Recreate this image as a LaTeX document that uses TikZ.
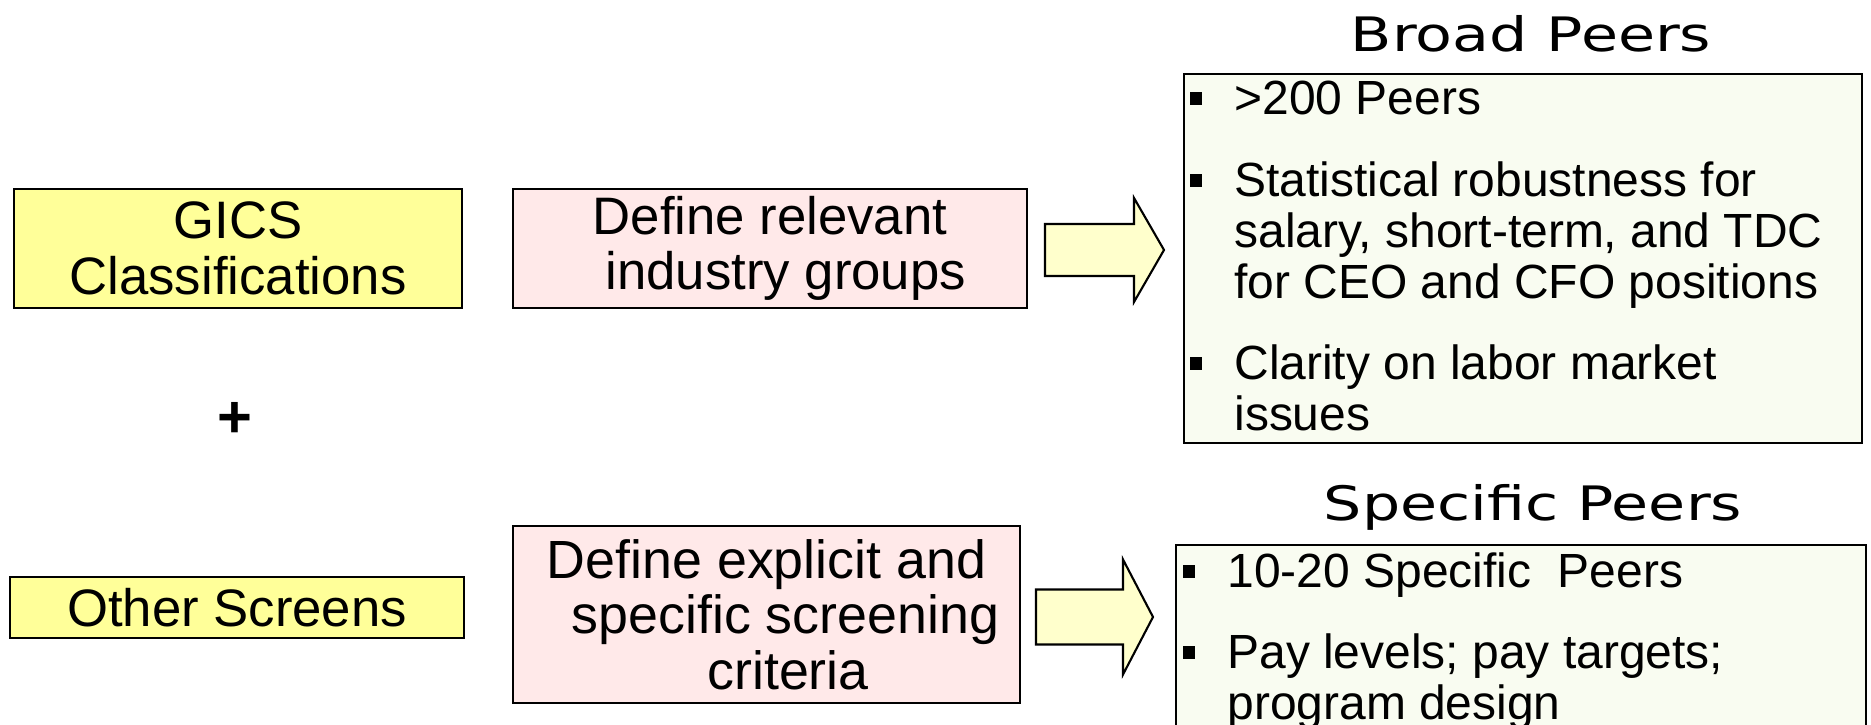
\documentclass[tikz,border=0pt]{standalone}
\usepackage{graphicx}
\usepackage{fontspec}
\setmainfont{Liberation Sans}
\newfontfamily\titlefont{DejaVu Sans}
\definecolor{gicsCol}{HTML}{FFFF99}
\definecolor{defineCol}{HTML}{FFE9E9}
\definecolor{arrowCol}{HTML}{FFFFCC}
\definecolor{peerCol}{HTML}{F9FCF1}
\newcommand{\sqbul}{\llap{\rule[5.4pt]{7pt}{7.4pt}\hspace{18.2pt}}}

\begin{document}
\begin{tikzpicture}[
    leftbox/.style={draw=black, line width=1.3pt, inner sep=0pt, align=center, font=\fontsize{30pt}{31.7pt}\selectfont},
    sourcebox/.style={leftbox, fill=gicsCol},
    definebox/.style={leftbox, fill=defineCol},
    peerbox/.style={draw=black, line width=1pt, fill=peerCol, inner sep=0pt},
    peerlist/.style={anchor=north west, align=left, inner sep=0pt, font=\fontsize{27.3pt}{28.9pt}\selectfont},
    titlenode/.style={anchor=base, font=\titlefont\fontsize{27pt}{30pt}\selectfont},
    blockarrow/.style={draw=black, line width=1.2pt, fill=arrowCol, line join=miter}
]
\useasboundingbox (0,0) rectangle (37.42,14.5);

% --- 1. SOURCES ---
\node[sourcebox, minimum width=8.96cm, minimum height=2.38cm] (gics) at (4.76, 9.53) {GICS\\Classifications};
\node[font=\bfseries\fontsize{34pt}{36pt}\selectfont] (plus) at (4.70, 6.1) {+};
\node[sourcebox, minimum width=9.08cm, minimum height=1.22cm] (other) at (4.74, 2.35) {Other Screens};

% --- 2. DEFINITION STEPS ---
\node[definebox, minimum width=10.28cm, minimum height=2.38cm] (defrel) at (15.40, 9.53) {Define relevant\\\hspace{0.6em}industry groups};
\node[definebox, minimum width=10.14cm, minimum height=3.54cm, font=\fontsize{30.6pt}{31.7pt}\selectfont] (defexp) at (15.33, 2.21) {Define explicit and\\\hspace{0.7em}specific screening\\\hspace{0.8em}criteria};

% --- 3. BLOCK ARROWS ---
\begin{scope}[shift={(20.90, 9.50)}]
    \draw[blockarrow] (0,0.52) -- (1.78,0.52) -- (1.78,1.04) -- (2.38,0) -- (1.78,-1.04) -- (1.78,-0.52) -- (0,-0.52) -- cycle;
\end{scope}
\begin{scope}[shift={(20.72, 2.16)}]
    \draw[blockarrow] (0,0.55) -- (1.74,0.55) -- (1.74,1.15) -- (2.34,0) -- (1.74,-1.15) -- (1.74,-0.55) -- (0,-0.55) -- cycle;
\end{scope}

% --- 4. BROAD PEERS ---
\node[titlenode] (broadtitle) at (30.62, 13.46) {\scalebox{1.27}[1]{Broad Peers}};
\node[peerbox, minimum width=13.56cm, minimum height=7.38cm] (broad) at (30.46, 9.33) {};
\node[peerlist] (broadlist) at (24.68, 12.88) {%
    \sqbul>200 Peers\\[17.6pt]
    \sqbul Statistical robustness for\\
    salary, short-term, and TDC\\
    for CEO and CFO positions\\[17.6pt]
    \sqbul Clarity on labor market\\
    issues};

% --- 5. SPECIFIC PEERS ---
\node[titlenode] (spectitle) at (30.66, 4.08) {\scalebox{1.27}[1]{Specific Peers}};
\node[peerbox, minimum width=13.8cm, minimum height=5.2cm] (specific) at (30.42, 1.0) {};
\node[peerlist] (speclist) at (24.54, 3.46) {%
    \sqbul 10-20 Specific\ \ Peers\\[17.6pt]
    \sqbul Pay levels; pay targets;\\
    program design};

\end{tikzpicture}
\end{document}
